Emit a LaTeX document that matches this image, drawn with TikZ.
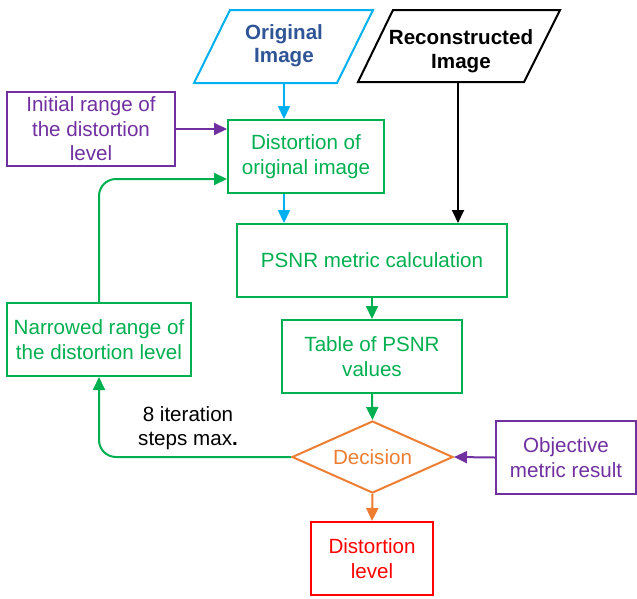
\documentclass[tikz,border=0pt]{standalone}
\usepackage{fontspec}
\setmainfont{Liberation Sans}
\usetikzlibrary{shapes.geometric,arrows.meta,calc}

\definecolor{incyan}{RGB}{0,176,240}
\definecolor{inblue}{RGB}{47,85,151}
\definecolor{flowgreen}{RGB}{0,176,80}
\definecolor{flowpurple}{RGB}{112,48,160}
\definecolor{floworange}{RGB}{237,125,49}
\definecolor{flowred}{RGB}{255,0,0}

\tikzset{
  txt/.style={font=\fontsize{20.6}{24.5}\selectfont, align=center},
  boldtxt/.style={font=\fontsize{20.6}{23.5}\selectfont\bfseries, align=center},
  box/.style={draw, line width=2pt, txt, inner sep=0pt},
  ioshape/.style={line width=2pt, line join=miter},
  link/.style={line width=2pt, -{Triangle[length=13pt,width=12pt]}},
}

\begin{document}
\begin{tikzpicture}[x=1pt,y=-1pt]
\useasboundingbox (0,0) rectangle (637,598);

% input parallelograms
\draw[ioshape, incyan] (230,10) -- (373,10) -- (337,83) -- (194,83) -- cycle;
\coordinate (origout) at (284,83);
\node[boldtxt, inblue] (orig) at (284,45.5) {Original\\Image};

\draw[ioshape, black] (393,10) -- (560,10) -- (524,82) -- (358,82) -- cycle;
\coordinate (reconout) at (458,82);
\node[boldtxt] (recon) at (461,51) {Reconstructed\\Image};

% process boxes
\node[box, flowpurple, minimum width=168pt, minimum height=74pt] (init) at (91,129) {Initial range of\\the distortion\\level};
\node[box, flowgreen, minimum width=156pt, minimum height=73pt] (dist) at (306,156.5) {Distortion of\\original image};
\node[box, flowgreen, minimum width=270pt, minimum height=73pt] (psnr) at (372,260.5) {PSNR metric calculation};
\node[box, flowgreen, minimum width=180pt, minimum height=73pt] (table) at (372,356.5) {Table of PSNR\\values};
\node[box, flowgreen, minimum width=184pt, minimum height=73pt] (narrow) at (99,339.5) {Narrowed range of\\the distortion level};
\node[box, flowpurple, minimum width=140pt, minimum height=73pt] (obj) at (566,457.5) {Objective\\metric result};
\node[box, flowred, minimum width=122pt, minimum height=73pt] (level) at (372,558.5) {Distortion\\level};

% decision
\node[draw, floworange, line width=2pt, diamond, aspect=2.236, inner sep=0pt,
      minimum width=161pt, minimum height=72pt, txt] (dec) at (372.5,457) {Decision};

\node[txt] (iter) at (188,428) {8 iteration\\steps max\textbf{.}};

% connectors
\draw[link, incyan] (origout) -- (origout |- dist.north);
\draw[link, incyan] (dist.south -| origout) -- (psnr.north -| origout);
\draw[link, black] (reconout) -- (reconout |- psnr.north);
\draw[link, flowpurple] (init.east) -- (init.east -| dist.west);
\draw[link, flowgreen] (psnr.south) -- (table.north);
\draw[link, flowgreen] (table.south) -- (dec.north);
\draw[link, flowpurple] (obj.west) -- (dec.east);
\draw[link, floworange] (dec.south) -- (level.north);
\draw[link, flowgreen, rounded corners=17pt] (dec.west) -| (narrow.south);
\draw[link, flowgreen, rounded corners=17pt] (narrow.north) |- ($(dist.west)+(0,22.5)$);
\end{tikzpicture}
\end{document}
